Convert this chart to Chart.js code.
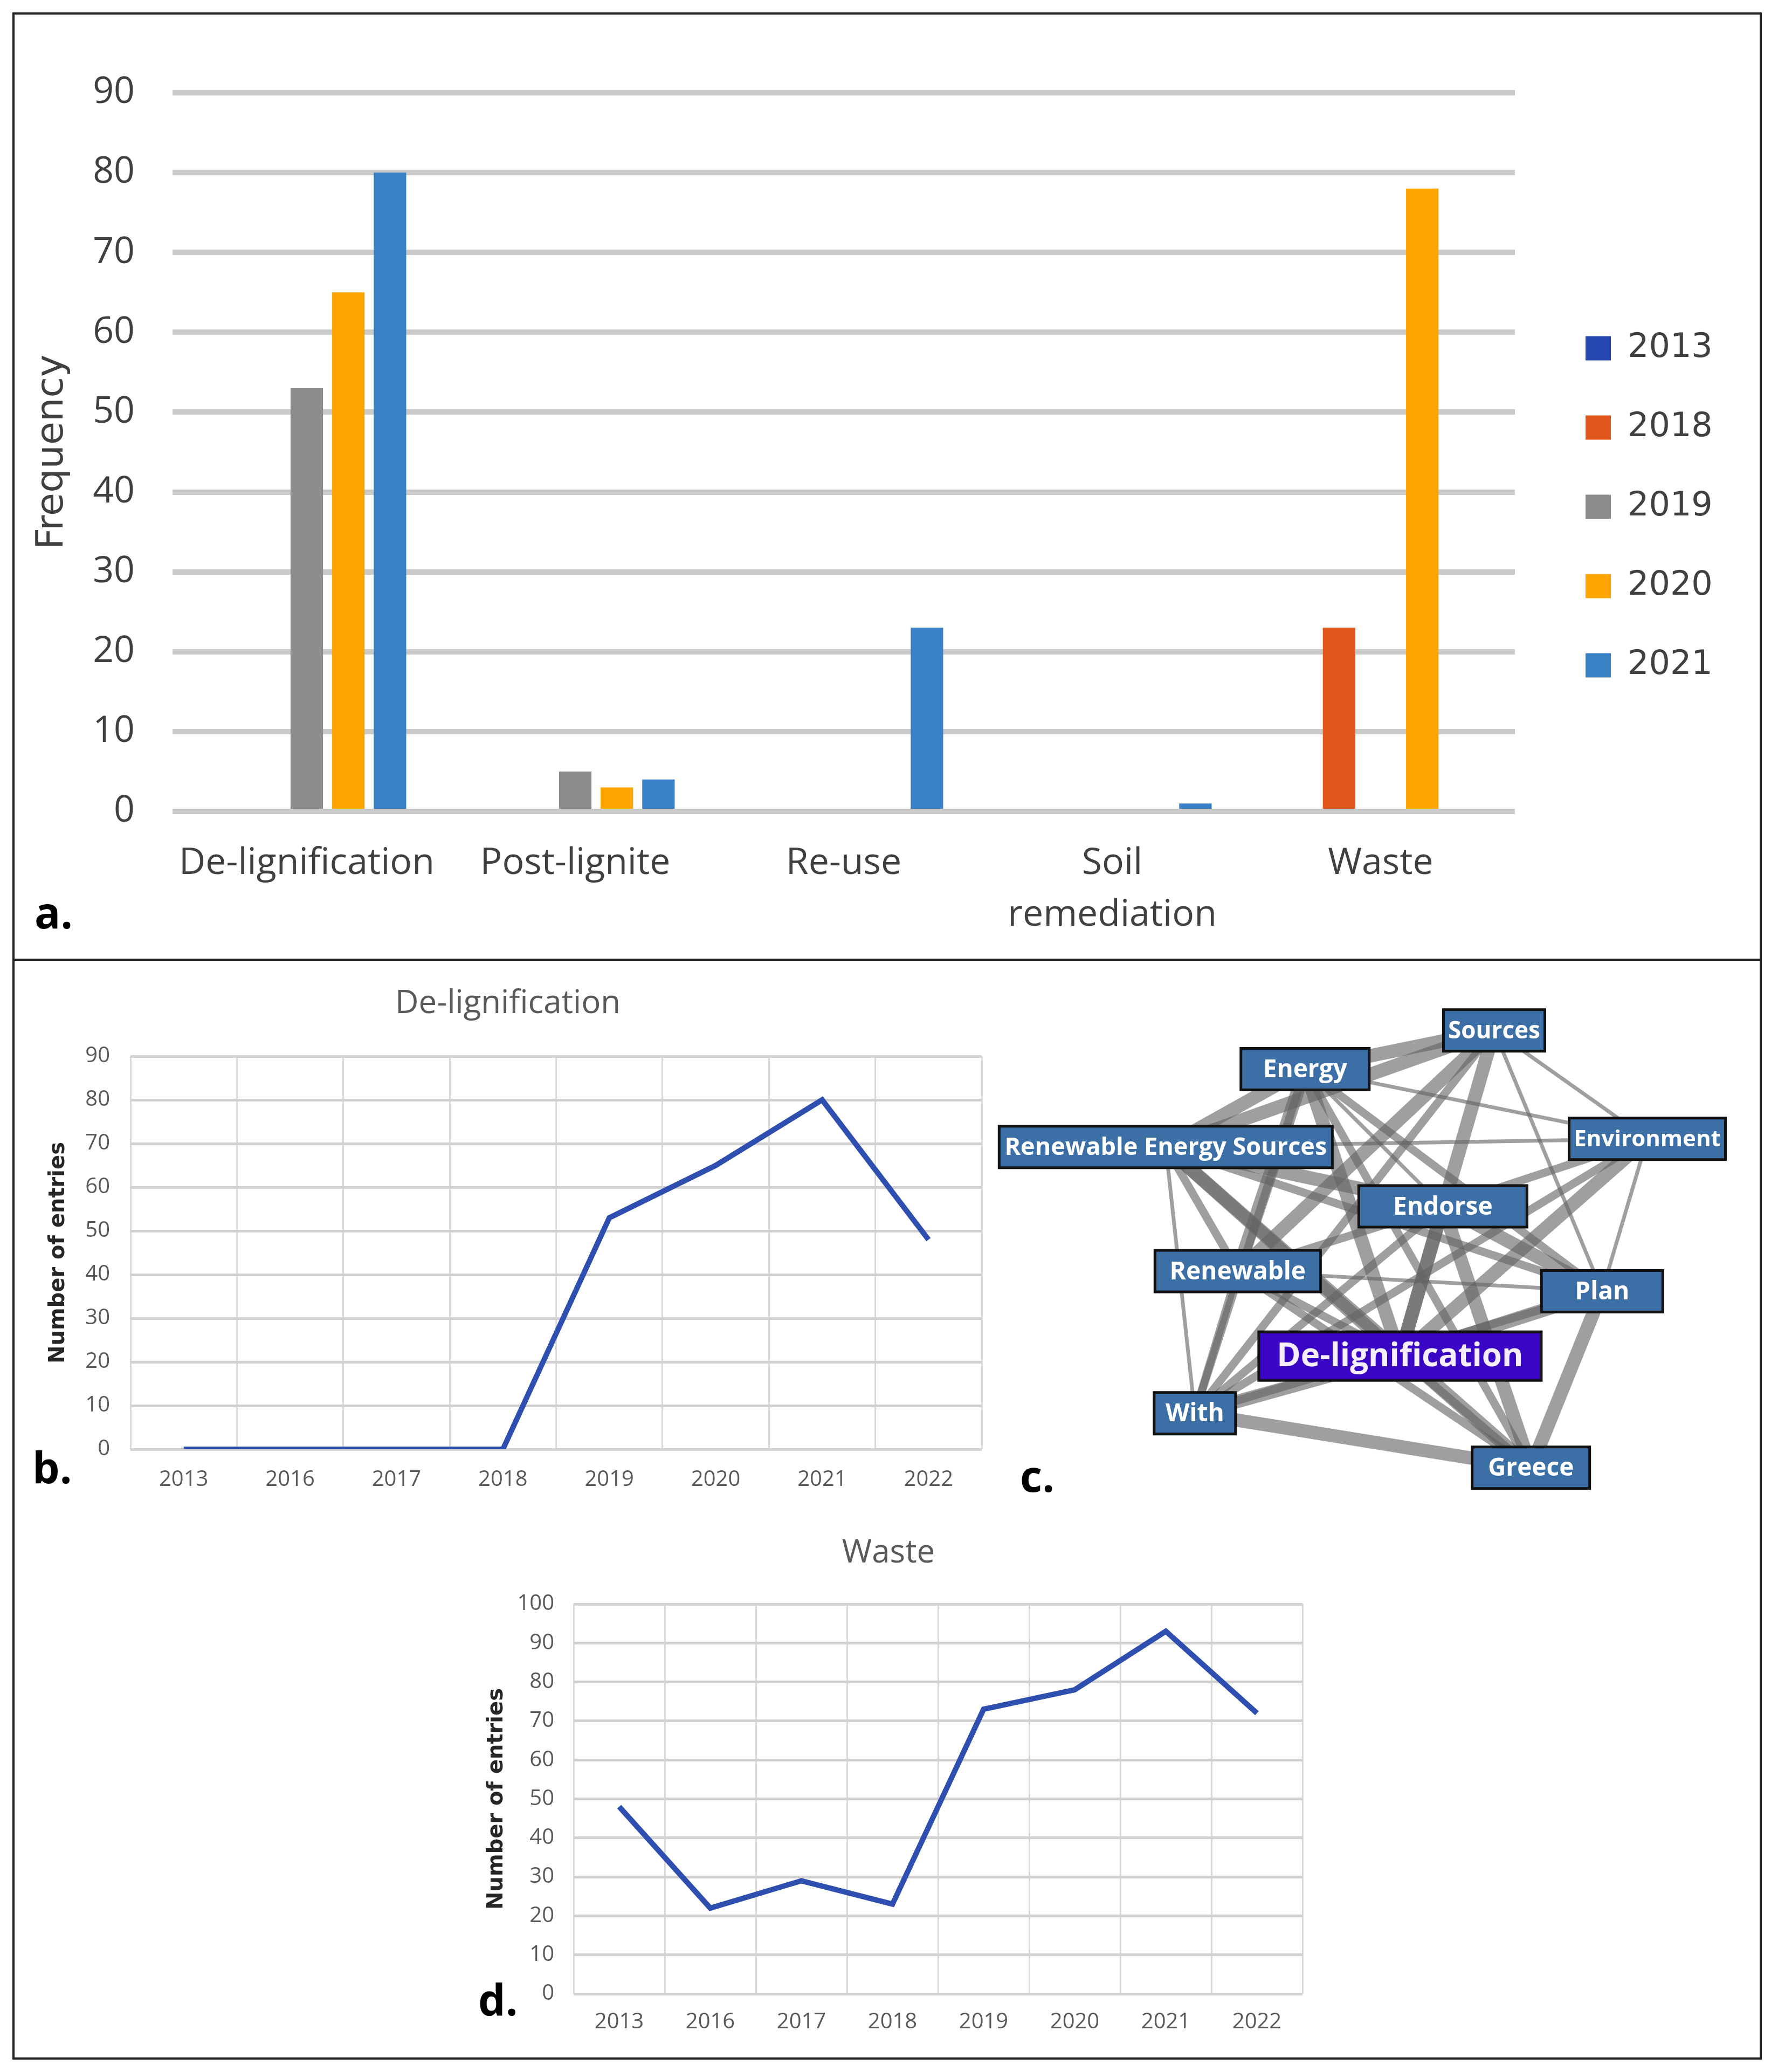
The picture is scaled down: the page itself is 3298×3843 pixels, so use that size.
<!DOCTYPE html>
<html>
<head>
<meta charset="utf-8">
<script src="https://cdn.jsdelivr.net/npm/chart.js@4.4.1/dist/chart.umd.min.js"></script>
<style>
  body { margin: 0; width: 3298px; height: 3843px; background: #fff; position: relative; overflow: hidden; }
  canvas { position: absolute; }
  .frame { position: absolute; border: 4px solid #222; box-sizing: border-box; }
  .rule { position: absolute; background: #222; }
  .tag { position: absolute; font: bold 80px 'Open Sans', sans-serif; color: #000; line-height: 1; }
</style>
</head>
<body>
<div class="frame" style="left:23px; top:23px; width:3245px; height:3797px;"></div>
<div class="rule" style="left:23px; top:1778px; width:3245px; height:4px;"></div>

<canvas id="barChart" width="3230" height="1740" style="left:30px; top:30px;"></canvas>
<canvas id="delignChart" width="1824" height="1055" style="left:30px; top:1785px;"></canvas>
<canvas id="netChart" width="1420" height="1010" style="left:1840px; top:1790px;"></canvas>
<canvas id="wasteChart" width="1576" height="1022" style="left:860px; top:2790px;"></canvas>

<div class="tag" style="left:64px; top:1651px;">a.</div>
<div class="tag" style="left:60px; top:2680px;">b.</div>
<div class="tag" style="left:1892px; top:2696px;">c.</div>
<div class="tag" style="left:887px; top:3667px;">d.</div>

<script>
Chart.defaults.font.family = "'Open Sans', sans-serif";
Chart.defaults.color = '#595959';

// a. frequency of topics per year
const topicLabels = ['De-lignification', 'Post-lignite', 'Re-use', ['Soil', 'remediation'], 'Waste'];
const yearLabels = ['2013', '2018', '2019', '2020', '2021'];
const freq2013 = [0, 0, 0, 0, 0];
const freq2018 = [0, 0, 0, 0, 23];
const freq2019 = [53, 5, 0, 0, 0];
const freq2020 = [65, 3, 0, 0, 78];
const freq2021 = [80, 4, 23, 1, 0];
const yearColors = ['#2747B0', '#E2581C', '#8C8C8C', '#FFA500', '#3A80C6'];

// b. and d. entries per year
const entryYears = ['2013', '2016', '2017', '2018', '2019', '2020', '2021', '2022'];
const delignEntries = [0, 0, 0, 0, 53, 65, 80, 48];
const wasteEntries = [48, 22, 29, 23, 73, 78, 93, 72];

// c. co-occurrence network (layout units 0-100)
const nodeNames = ['Sources', 'Energy', 'Renewable Energy Sources', 'Environment', 'Endorse',
                   'Renewable', 'Plan', 'De-lignification', 'With', 'Greece'];
const nodeX = [65.6, 40.9, 22.7, 85.6, 58.9, 32.1, 79.7, 53.3, 26.5, 70.4];
const nodeY = [12.0, 19.1, 33.4, 31.9, 44.3, 56.2, 59.9, 71.8, 82.3, 92.3];
// [from, to, strength]
const edgeList = [
  [1, 0, 3], [2, 0, 3], [0, 3, 1], [0, 6, 1], [0, 7, 3], [0, 5, 3], [0, 8, 2],
  [1, 3, 1], [1, 6, 2], [1, 9, 2], [1, 7, 3], [1, 5, 3], [1, 8, 2], [1, 2, 3], [1, 4, 1],
  [2, 3, 1], [2, 4, 3], [2, 6, 2], [2, 7, 3], [2, 9, 3], [2, 8, 1], [2, 5, 2],
  [3, 4, 2], [3, 7, 3], [3, 6, 1], [3, 8, 2],
  [4, 5, 2], [4, 6, 3], [4, 7, 3], [4, 9, 3], [4, 8, 2],
  [5, 6, 1], [5, 7, 2], [5, 8, 2], [5, 9, 2],
  [6, 7, 3], [6, 9, 3], [6, 8, 2],
  [7, 8, 3], [7, 9, 2], [8, 9, 3]
];

// ---------- a. bar chart ----------
const yearSeries = [freq2013, freq2018, freq2019, freq2020, freq2021];

new Chart(document.getElementById('barChart'), {
  type: 'bar',
  data: {
    labels: topicLabels,
    datasets: yearLabels.map((y, i) => ({
      label: y,
      data: yearSeries[i],
      backgroundColor: yearColors[i],
      borderWidth: 0
    }))
  },
  options: {
    responsive: false,
    animation: false,
    devicePixelRatio: 1,
    events: [],
    layout: { padding: { top: 142, bottom: 0, left: 0, right: 74 } },
    datasets: { bar: { categoryPercentage: 0.775, barPercentage: 0.78 } },
    plugins: {
      tooltip: { enabled: false },
      legend: {
        position: 'right',
        align: 'start',
        maxWidth: 330,
        // empty title only used to push the items down to the right height
        title: { display: true, text: '', font: { size: 10 }, padding: { top: 346, bottom: 0 } },
        labels: {
          boxWidth: 47,
          boxHeight: 45,
          padding: 85,
          color: '#404040',
          font: { family: "'DejaVu Sans', sans-serif", size: 62 }
        }
      }
    },
    scales: {
      x: {
        grid: { display: false, drawTicks: false },
        border: { display: false },
        ticks: { padding: 49, color: '#404040', autoSkip: false, maxRotation: 0,
                 font: { size: 68, lineHeight: 1.41 } },
        afterFit: s => { s.height = 265; }
      },
      y: {
        min: 0, max: 90,
        ticks: { stepSize: 10, padding: 70, color: '#404040', font: { size: 68 } },
        grid: { color: '#CACACA', lineWidth: 10, drawTicks: false },
        border: { display: false },
        title: { display: true, text: 'Frequency', color: '#404040',
                 font: { family: "'DejaVu Sans', sans-serif", size: 70 },
                 padding: { top: 26, bottom: 0 } },
        afterFit: s => { s.width = 290; }
      },
      gap: {
        position: 'right',
        grid: { display: false, drawTicks: false },
        border: { display: false },
        ticks: { display: false },
        afterFit: s => { s.width = 46; }
      }
    }
  }
});

// ---------- b. and d. line charts ----------
function entryChart(id, title, values, maxY, g) {
  return new Chart(document.getElementById(id), {
    type: 'line',
    data: {
      labels: entryYears,
      datasets: [{
        data: values,
        borderColor: '#2E4FAF',
        borderWidth: 10,
        pointRadius: 0,
        tension: 0,
        fill: false
      }]
    },
    options: {
      responsive: false,
      animation: false,
      devicePixelRatio: 1,
      events: [],
      layout: { padding: { top: 0, bottom: 0, left: g.pl, right: g.pr } },
      plugins: {
        legend: { display: false },
        tooltip: { enabled: false },
        title: {
          display: true, text: title, color: '#595959',
          font: { size: 60, weight: 'normal' },
          padding: { top: g.titleTop, bottom: g.titleBottom }
        }
      },
      scales: {
        x: {
          offset: true,
          grid: { offset: true, color: '#D9D9D9', lineWidth: 3, drawTicks: false },
          border: { display: false },
          ticks: { padding: g.xPad, color: '#595959', font: { size: 40 } },
          afterFit: s => { s.height = g.xH; }
        },
        y: {
          min: 0, max: maxY,
          ticks: { stepSize: 10, padding: g.yPad, color: '#595959', font: { size: 40 } },
          grid: { color: '#D2D2D2', lineWidth: 5, drawTicks: false },
          border: { display: false },
          title: {
            display: true, text: 'Number of entries', color: '#262626',
            font: { family: "'DejaVu Sans', sans-serif", size: 40, weight: 'bold' },
            padding: { top: g.yTitlePad, bottom: 0 }
          },
          afterFit: s => { s.width = g.yW; }
        }
      }
    }
  });
}

entryChart('delignChart', 'De-lignification', delignEntries, 90,
  { pl: 33, pr: 33, yW: 179, yPad: 38, yTitlePad: 22, titleTop: 41, titleBottom: 61, xPad: 33, xH: 152 });

entryChart('wasteChart', 'Waste', wasteEntries, 100,
  { pl: 20, pr: 20, yW: 184, yPad: 36, yTitlePad: 18, titleTop: 55, titleBottom: 58, xPad: 29, xH: 114 });

// ---------- c. network ----------
const edgeWidth = [0, 7, 15, 25];
const nodeBoxW = {
  'Sources': 188, 'Energy': 238, 'Renewable Energy Sources': 618, 'Environment': 290,
  'Endorse': 312, 'Renewable': 307, 'Plan': 225, 'De-lignification': 524, 'With': 151, 'Greece': 218
};

const nodeBoxes = {
  id: 'nodeBoxes',
  afterDatasetsDraw(chart) {
    const ctx = chart.ctx;
    const meta = chart.getDatasetMeta(chart.data.datasets.length - 1);
    meta.data.forEach((pt, i) => {
      const name = nodeNames[i];
      const main = name === 'De-lignification';
      const w = nodeBoxW[name];
      const h = main ? 90 : 77;
      ctx.save();
      ctx.fillStyle = main ? '#3A05C4' : '#3D6FA7';
      ctx.fillRect(pt.x - w / 2, pt.y - h / 2, w, h);
      ctx.lineWidth = 5;
      ctx.strokeStyle = '#121212';
      ctx.strokeRect(pt.x - w / 2, pt.y - h / 2, w, h);
      let size = main ? 60 : 46;
      ctx.font = 'bold ' + size + "px 'Open Sans', sans-serif";
      while (ctx.measureText(name).width > w - 16 && size > 20) {
        size--;
        ctx.font = 'bold ' + size + "px 'Open Sans', sans-serif";
      }
      ctx.fillStyle = main ? '#F4EEFF' : '#FFFFFF';
      ctx.textAlign = 'center';
      ctx.textBaseline = 'middle';
      ctx.fillText(name, pt.x, pt.y + 2);
      ctx.restore();
    });
  }
};

const netSets = edgeList.map(([a, b, s]) => ({
  data: [{ x: nodeX[a], y: nodeY[a] }, { x: nodeX[b], y: nodeY[b] }],
  showLine: true,
  borderColor: 'rgba(100,100,100,0.62)',
  borderWidth: edgeWidth[s],
  borderCapStyle: 'butt',
  pointRadius: 0,
  clip: false
}));
netSets.push({
  data: nodeNames.map((n, i) => ({ x: nodeX[i], y: nodeY[i] })),
  showLine: false,
  pointRadius: 0,
  clip: false
});

new Chart(document.getElementById('netChart'), {
  type: 'scatter',
  data: { datasets: netSets },
  options: {
    responsive: false,
    animation: false,
    devicePixelRatio: 1,
    events: [],
    layout: { padding: 0 },
    plugins: { legend: { display: false }, tooltip: { enabled: false } },
    scales: {
      x: { type: 'linear', min: 0, max: 100, display: false },
      y: { type: 'linear', min: 0, max: 100, reverse: true, display: false }
    }
  },
  plugins: [nodeBoxes]
});
</script>
</body>
</html>
